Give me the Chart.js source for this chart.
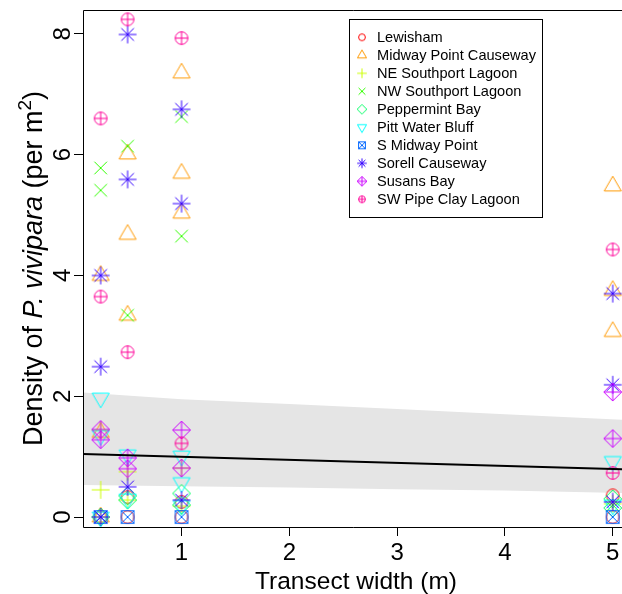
<!DOCTYPE html>
<html>
<head>
<meta charset="utf-8">
<script src="https://cdn.jsdelivr.net/npm/chart.js@4.4.1/dist/chart.umd.min.js"></script>
<style>
html,body{margin:0;padding:0;background:#fff;}
#wrap{width:622px;height:594px;position:relative;}
</style>
</head>
<body>
<div id="wrap"><canvas id="c" width="622" height="594"></canvas></div>
<script>
// ---------- data ----------
const siteNames = ["Lewisham","Midway Point Causeway","NE Southport Lagoon","NW Southport Lagoon","Peppermint Bay","Pitt Water Bluff","S Midway Point","Sorell Causeway","Susans Bay","SW Pipe Clay Lagoon"];
const siteColors = ["#FF0000","#FF9900","#CCFF00","#33FF00","#00FF66","#00FFFF","#0066FF","#3300FF","#CC00FF","#FF0099"];
const siteShapes = ["circle","triangle","plus","cross","diamond","invTriangle","boxX","asterisk","diamondPlus","circlePlus"];

const lewishamX = [0.25, 0.5, 0.5, 1, 1, 5, 5];
const lewishamY = [0, 0.33, 0, 0.25, 0, 0.36, 0];
const midwayX = [0.25, 0.25, 0.25, 0.5, 0.5, 0.5, 1, 1, 1, 5, 5, 5];
const midwayY = [4.0, 1.4, 0, 6.01, 4.68, 3.34, 7.35, 5.69, 5.03, 5.48, 3.75, 3.07];
const neSouthportX = [0.25, 0.25, 0.25, 0.5, 0.5, 1, 1, 5];
const neSouthportY = [1.44, 0.45, 0, 0.75, 0.28, 0.81, 0.18, 0.22];
const nwSouthportX = [0.25, 0.25, 0.5, 0.5, 1, 1, 5];
const nwSouthportY = [5.78, 5.41, 6.14, 3.34, 6.63, 4.65, 0.2];
const peppermintX = [0.25, 0.5, 0.5, 1, 1, 5, 5];
const peppermintY = [0, 0.35, 0.28, 0.39, 0.2, 0.3, 0.15];
const pittWaterX = [0.25, 0.25, 0.25, 0.5, 0.5, 1, 1, 1, 5, 5];
const pittWaterY = [1.97, 1.35, 0, 1.03, 0.3, 1.01, 0.57, 0.19, 0.92, 0.2];
const sMidwayX = [0.25, 0.5, 1, 5];
const sMidwayY = [0, 0, 0, 0];
const sorellX = [0.25, 0.25, 0.25, 0.5, 0.5, 0.5, 1, 1, 1, 5, 5, 5];
const sorellY = [4.0, 2.49, 0, 7.99, 5.59, 0.5, 6.75, 5.19, 0.28, 3.70, 2.19, 0.25];
const susansX = [0.25, 0.25, 0.5, 0.5, 1, 1, 5, 5];
const susansY = [1.45, 1.28, 0.98, 0.8, 1.44, 0.81, 2.07, 1.30];
const swPipeClayX = [0.25, 0.25, 0.5, 0.5, 1, 1, 5, 5];
const swPipeClayY = [6.6, 3.65, 8.24, 2.73, 7.93, 1.22, 4.43, 0.73];

// fitted line and confidence band
const fitX = [0.0863, 5.086];
const fitY = [1.045, 0.793];
const bandX = [0.0863, 1, 2, 3, 4, 5.086];
const bandUpper = [2.06, 1.95, 1.87, 1.79, 1.70, 1.61];
const bandLower = [0.53, 0.51, 0.49, 0.46, 0.44, 0.40];

// axes
const xTicks = [1, 2, 3, 4, 5];
const yTicks = [0, 2, 4, 6, 8];
const xMin = 0.0863, xMax = 5.086;
const yMin = -0.165, yMax = 8.395;

const siteX = [lewishamX, midwayX, neSouthportX, nwSouthportX, peppermintX, pittWaterX, sMidwayX, sorellX, susansX, swPipeClayX];
const siteY = [lewishamY, midwayY, neSouthportY, nwSouthportY, peppermintY, pittWaterY, sMidwayY, sorellY, susansY, swPipeClayY];

// ---------- marker drawing (R pch 1..10 look) ----------
const FONT = '"Liberation Sans", Arial, Helvetica, sans-serif';
function makeMarker(shape, color, r, lw) {
  const ext = Math.ceil(1.56 * r) + 2;
  const S = 2 * ext;
  const cv = document.createElement('canvas');
  cv.width = S; cv.height = S;
  const g = cv.getContext('2d');
  g.strokeStyle = color; g.lineWidth = lw;
  const c = S / 2;
  const s2 = Math.SQRT2 * r;
  const line = (x1, y1, x2, y2) => { g.beginPath(); g.moveTo(c + x1, c + y1); g.lineTo(c + x2, c + y2); g.stroke(); };
  const poly = pts => { g.beginPath(); pts.forEach((p, i) => i ? g.lineTo(c + p[0], c + p[1]) : g.moveTo(c + p[0], c + p[1])); g.closePath(); g.stroke(); };
  const circ = rr => { g.beginPath(); g.arc(c, c, rr, 0, 2 * Math.PI); g.stroke(); };
  switch (shape) {
    case 'circle': circ(r); break;
    case 'triangle': poly([[0, -1.5551 * r], [1.3468 * r, 0.7776 * r], [-1.3468 * r, 0.7776 * r]]); break;
    case 'invTriangle': poly([[0, 1.5551 * r], [1.3468 * r, -0.7776 * r], [-1.3468 * r, -0.7776 * r]]); break;
    case 'plus': line(-s2, 0, s2, 0); line(0, -s2, 0, s2); break;
    case 'cross': line(-r, -r, r, r); line(-r, r, r, -r); break;
    case 'diamond': poly([[0, -s2], [s2, 0], [0, s2], [-s2, 0]]); break;
    case 'boxX': g.strokeRect(c - r, c - r, 2 * r, 2 * r); line(-r, -r, r, r); line(-r, r, r, -r); break;
    case 'asterisk': line(-r, -r, r, r); line(-r, r, r, -r); line(-s2, 0, s2, 0); line(0, -s2, 0, s2); break;
    case 'diamondPlus': poly([[0, -s2], [s2, 0], [0, s2], [-s2, 0]]); line(-s2, 0, s2, 0); line(0, -s2, 0, s2); break;
    case 'circlePlus': circ(r); line(-r, 0, r, 0); line(0, -r, 0, r); break;
  }
  return cv;
}
const plotMarkers = siteShapes.map((s, i) => makeMarker(s, siteColors[i], 6.3, 1));
const legendMarkers = siteShapes.map((s, i) => makeMarker(s, siteColors[i], 3.4, 1));

// ---------- datasets ----------
const datasets = [];
datasets.push({
  type: 'line', label: 'band upper',
  data: bandX.map((x, i) => ({ x, y: bandUpper[i] })),
  fill: '+1', backgroundColor: '#e5e5e5', borderColor: 'rgba(0,0,0,0)', borderWidth: 0,
  pointRadius: 0, tension: 0, order: 40
});
datasets.push({
  type: 'line', label: 'band lower',
  data: bandX.map((x, i) => ({ x, y: bandLower[i] })),
  fill: false, borderColor: 'rgba(0,0,0,0)', borderWidth: 0,
  pointRadius: 0, tension: 0, order: 41
});
siteNames.forEach((name, i) => {
  datasets.push({
    type: 'scatter', label: name,
    data: siteX[i].map((x, j) => ({ x, y: siteY[i][j] })),
    pointStyle: plotMarkers[i], pointRadius: 6, pointHoverRadius: 6,
    order: 20 - i
  });
});
datasets.push({
  type: 'line', label: 'fit',
  data: fitX.map((x, i) => ({ x, y: fitY[i] })),
  borderColor: '#000', borderWidth: 2, pointRadius: 0, fill: false, tension: 0, order: 0
});

// ---------- decoration plugin ----------
const decor = {
  id: 'decor',
  afterDraw(chart) {
    const ctx = chart.ctx;
    const a = chart.chartArea;
    ctx.save();
    // plot box (right side lies beyond the picture)
    ctx.strokeStyle = '#000'; ctx.lineWidth = 1;
    ctx.beginPath();
    ctx.moveTo(a.right + 2, Math.round(a.top) + 0.5);
    ctx.lineTo(Math.round(a.left) + 0.5, Math.round(a.top) + 0.5);
    ctx.lineTo(Math.round(a.left) + 0.5, Math.round(a.bottom) + 0.5);
    ctx.lineTo(a.right + 2, Math.round(a.bottom) + 0.5);
    ctx.stroke();

    // x title
    ctx.fillStyle = '#000';
    ctx.font = '24.5px ' + FONT;
    ctx.textAlign = 'center'; ctx.textBaseline = 'alphabetic';
    ctx.fillText('Transect width (m)', 356, 589);

    // y title (mixed styles)
    const cy = (a.top + a.bottom) / 2;
    const fs = 27;
    const parts = [
      { t: 'Density of ', f: fs + 'px ' + FONT, dy: 0 },
      { t: 'P. vivipara', f: 'italic ' + fs + 'px ' + FONT, dy: 0 },
      { t: ' (per m', f: fs + 'px ' + FONT, dy: 0 },
      { t: '2', f: Math.round(fs * 0.7) + 'px ' + FONT, dy: -11 },
      { t: ')', f: fs + 'px ' + FONT, dy: 0 }
    ];
    let total = 0;
    parts.forEach(p => { ctx.font = p.f; p.w = ctx.measureText(p.t).width; total += p.w; });
    ctx.translate(42, cy);
    ctx.rotate(-Math.PI / 2);
    ctx.textAlign = 'left';
    let xx = -total / 2;
    parts.forEach(p => { ctx.font = p.f; ctx.fillText(p.t, xx, p.dy); xx += p.w; });
    ctx.restore();

    // legend
    ctx.save();
    const L = 349.5, T = 19.5, R = 542.5, B = 217.5;
    ctx.fillStyle = '#fff';
    ctx.fillRect(L, T, R - L, B - T);
    ctx.strokeStyle = '#000'; ctx.lineWidth = 1;
    ctx.strokeRect(L, T, R - L, B - T);
    ctx.fillStyle = '#000';
    ctx.font = '14.6px ' + FONT;
    ctx.textAlign = 'left'; ctx.textBaseline = 'middle';
    siteNames.forEach((name, i) => {
      const y = 37.3 + 18 * i;
      const m = legendMarkers[i];
      ctx.drawImage(m, 362 - m.width / 2, y - m.height / 2);
      ctx.fillText(name, 377, y + 0.5);
    });
    ctx.restore();
  }
};

const axisCommon = {
  type: 'linear',
  grid: { drawOnChartArea: false, drawTicks: true, tickLength: 9, color: '#000', lineWidth: 1 },
  border: { display: false }
};

new Chart(document.getElementById('c').getContext('2d'), {
  type: 'scatter',
  data: { datasets },
  options: {
    responsive: false, animation: false, devicePixelRatio: 1,
    layout: { autoPadding: false, padding: { left: 0, right: 0, top: 10, bottom: 0 } },
    plugins: { legend: { display: false }, tooltip: { enabled: false } },
    scales: {
      x: Object.assign({}, axisCommon, {
        position: 'bottom', min: xMin, max: xMax,
        afterBuildTicks: s => { s.ticks = xTicks.map(v => ({ value: v })); },
        afterFit: s => { s.height = 67; s.paddingLeft = 0; s.paddingRight = 0; },
        ticks: { font: { family: FONT, size: 24 }, color: '#000', padding: 3, maxRotation: 0, minRotation: 0 }
      }),
      y: Object.assign({}, axisCommon, {
        position: 'left', min: yMin, max: yMax,
        afterBuildTicks: s => { s.ticks = yTicks.map(v => ({ value: v })); },
        afterFit: s => { s.width = 83; s.paddingTop = 0; s.paddingBottom = 0; },
        ticks: { font: { family: FONT, size: 24 }, color: '#000', padding: 4, minRotation: 90, maxRotation: 90, crossAlign: 'center' }
      })
    }
  },
  plugins: [decor]
});
</script>
</body>
</html>
